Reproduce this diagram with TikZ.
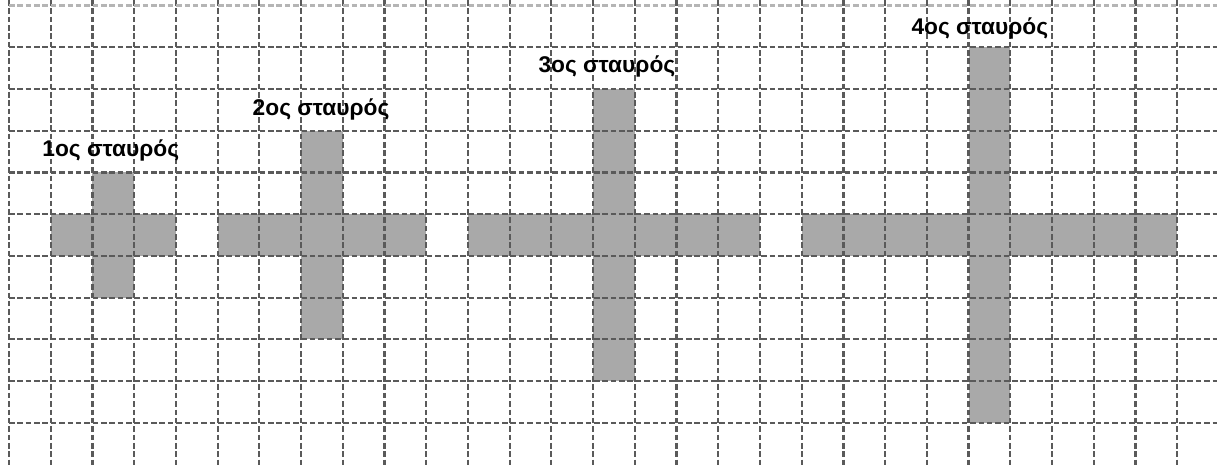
\documentclass[tikz,border=0pt]{standalone}
\usepackage{fontspec}
\newfontfamily\crossfont{Liberation Sans}
\usepackage{xcolor}
\usepackage{tikz}
\usetikzlibrary{positioning}

\definecolor{gridgray}{HTML}{5A5A5A}
\definecolor{crossgray}{HTML}{A9A9A9}

\tikzset{
  gridline/.style={gridgray, line width=1.5pt, dash pattern=on 3.8pt off 1.9pt},
  crosslabel/.style={font=\crossfont\fontsize{15.5}{18}\selectfont\bfseries, anchor=base, inner sep=0pt}
}

\begin{document}
\begin{tikzpicture}[x=1cm, y=1cm]
  \useasboundingbox (-0.216,-0.036) rectangle (28.955,11.134);

  %% Crosses
  \fill[crossgray] (1,5) rectangle (4,6);
  \fill[crossgray] (2,4) rectangle (3,7);

  \fill[crossgray] (5,5) rectangle (10,6);
  \fill[crossgray] (7,3) rectangle (8,8);

  \fill[crossgray] (11,5) rectangle (18,6);
  \fill[crossgray] (14,2) rectangle (15,9);

  \fill[crossgray] (19,5) rectangle (28,6);
  \fill[crossgray] (23,1) rectangle (24,10);

  %% Dashed squared paper
  \foreach \i in {0,...,28}
    \draw[gridline] (\i,11.134) -- (\i,-0.036);
  \foreach \j in {1,...,10}
    \draw[gridline] (0,\j) -- (28.955,\j);
  \draw[gridline, gridgray!45] (0,11) -- (28.955,11);

  %% Labels
  \node[crosslabel] (first)  at (2.44,7.38)   {1ος σταυρός};
  \node[crosslabel] (second) at (7.48,8.37)   {2ος σταυρός};
  \node[crosslabel] (third)  at (14.33,9.40)  {3ος σταυρός};
  \node[crosslabel] (fourth) at (23.27,10.31) {4ος σταυρός};
\end{tikzpicture}
\end{document}
